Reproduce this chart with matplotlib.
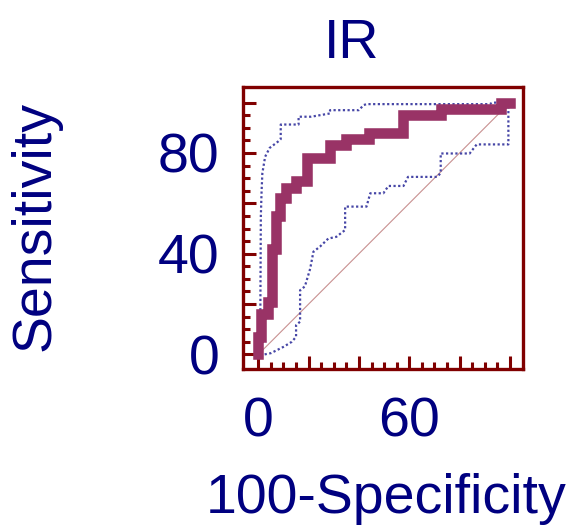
import matplotlib
matplotlib.use("Agg")
import matplotlib.pyplot as plt

# ROC curve for IR (step corners)
roc_fpr = [0, 0, 1.2, 1.2, 3.7, 3.7, 5.6, 5.6, 7.2, 7.2, 8.6, 8.6, 11, 11, 15, 15,
           19.4, 19.4, 28.5, 28.5, 35, 35, 44, 44, 57.4, 57.4, 72.5, 72.5, 96.5, 96.5, 100]
roc_tpr = [0, 7, 7, 16, 16, 21, 21, 42, 42, 55, 55, 62, 62, 66, 66, 69,
           69, 78, 78, 83, 83, 85.6, 85.6, 87.8, 87.8, 95, 95, 97.6, 97.6, 100, 100]

# upper confidence bound
up_fpr = [0, 0.8, 1, 1.3, 1.6, 2.7, 4.5, 7.8, 8.9, 8.9, 16, 16, 21, 28.5, 28.5,
          40, 41.8, 43, 92, 93, 100]
up_tpr = [12, 17, 55, 65, 72, 78.5, 82, 84.5, 85.5, 91.3, 91.3, 94.4, 94.4, 95.7, 97,
          97, 99, 99.4, 99.4, 100, 100]

# lower confidence bound
lo_fpr = [2.5, 5, 10, 13.3, 15, 15, 16.6, 16.6, 18.5, 20.6, 21.9, 24.5, 27.8, 31,
          34.5, 34.5, 43, 44.5, 49.7, 51.7, 57.7, 59.5, 71, 72.5, 72.5, 84, 86.8,
          99.4, 99.4, 100]
lo_tpr = [0, 0.5, 3, 5, 7, 11.6, 13, 25.5, 27, 34, 40.8, 42.8, 46, 46.7,
          49.4, 58.7, 58.7, 64, 64, 66.9, 66.9, 70.5, 70.5, 72, 79.8, 79.8, 83.4,
          83.4, 98.4, 100]

diag = [0, 100]
major = [0, 20, 40, 60, 80, 100]
x_labels = ["0", "", "", "60", "", ""]
y_labels = ["0", "", "40", "", "80", ""]

plt.rcParams['font.family'] = ['Liberation Sans', 'DejaVu Sans']
navy = "#000080"
frame = "#800000"

fig = plt.figure(figsize=(5.72, 5.27), dpi=100)
ax = fig.add_axes([0.4248, 0.2998, 0.9143 - 0.4248, 0.8349 - 0.2998])

ax.plot(diag, diag, color="#c89090", lw=0.8, zorder=1)
# confidence bounds, dotted
ax.plot(up_fpr, up_tpr, color="#4646a6", lw=1.6, linestyle=(0, (1, 1.1)), zorder=2)
ax.plot(lo_fpr, lo_tpr, color="#4646a6", lw=1.6, linestyle=(0, (1, 1.1)), zorder=2)
ax.plot(roc_fpr, roc_tpr, color="#993366", lw=7.6, solid_capstyle="projecting",
        solid_joinstyle="miter", zorder=3)

ax.set_xlim(-6.1, 105.2)
ax.set_ylim(-5.8, 106.2)

ax.set_xticks(major)
ax.set_xticklabels(x_labels)
ax.set_yticks(major)
ax.set_yticklabels(y_labels)
ax.set_xticks(range(0, 101, 5), minor=True)
ax.set_yticks(range(0, 101, 5), minor=True)

ax.tick_params(which="both", direction="in", color=frame, width=2.2,
               labelsize=40, labelcolor=navy)
ax.tick_params(which="major", length=9.5)
ax.tick_params(which="minor", length=5)
ax.tick_params(axis="x", pad=20)
ax.tick_params(axis="y", pad=17)

for s in ax.spines.values():
    s.set_color(frame)
    s.set_linewidth(2.4)

fig.text(0.615, 0.890, "IR", color=navy, fontsize=40, ha="center", va="baseline")
fig.text(0.675, 0.026, "100-Specificity", color=navy, fontsize=40, ha="center", va="baseline")
fig.text(0.062, 0.571, "Sensitivity", color=navy, fontsize=40, rotation=90,
         ha="center", va="center")

fig.savefig("out.png", dpi=100)
